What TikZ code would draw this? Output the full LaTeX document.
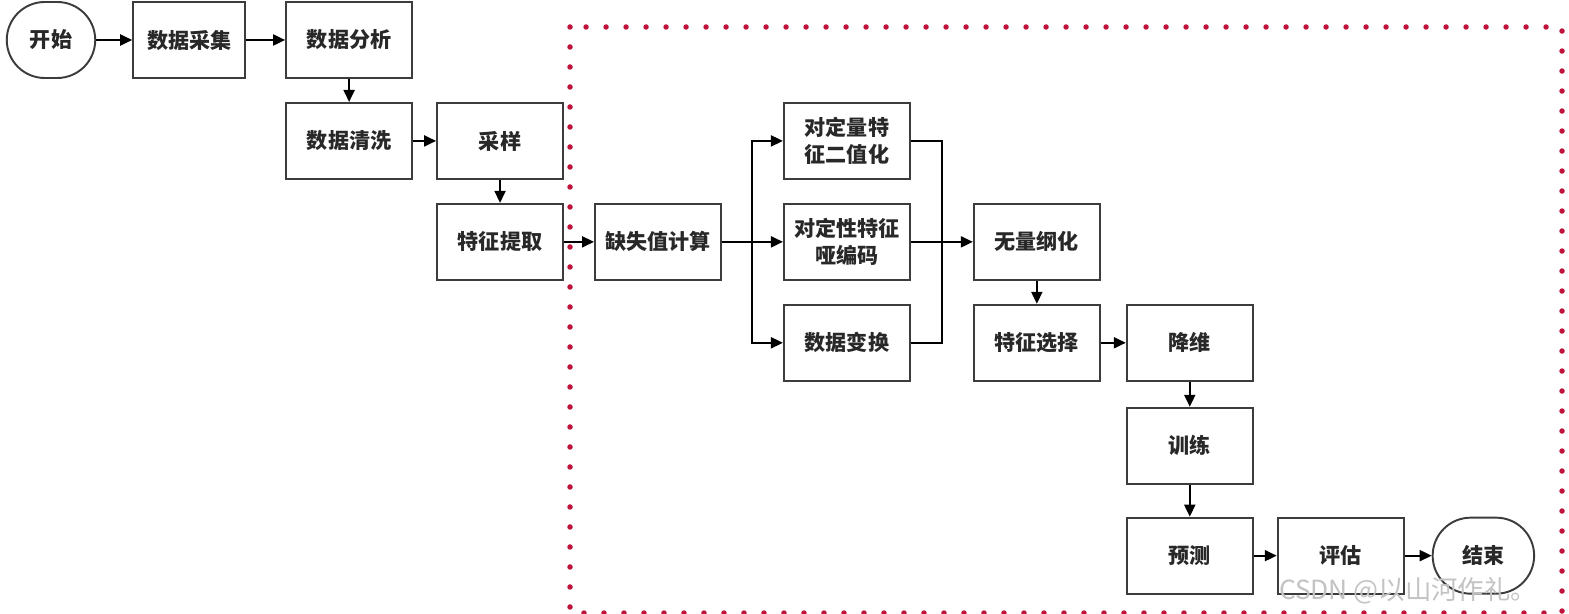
\documentclass[tikz,border=0pt]{standalone}
\usepackage{fontspec}
\usepackage{xcolor}
\usepackage{tikz}
\usetikzlibrary{arrows.meta, positioning, calc, shapes.misc}
\newfontfamily\cjk{Noto Sans CJK SC}
\definecolor{mydark}{RGB}{40,40,40}
\definecolor{myline}{RGB}{60,60,60}
\definecolor{mydot}{RGB}{190,20,60}
\definecolor{mymark}{RGB}{195,195,195}
\tikzset{
  block/.style={rectangle,draw=myline,fill=white,minimum width=2.52cm,minimum height=1.52cm,
    align=center,font=\cjk\bfseries\fontsize{12}{15}\selectfont,text=mydark,line width=1.1pt,inner sep=1pt},
  term/.style={rounded rectangle,draw=myline,fill=white,minimum width=1.84cm,minimum height=1.52cm,
    align=center,font=\cjk\bfseries\fontsize{12}{15}\selectfont,text=mydark,line width=1.1pt,inner sep=1pt},
  arrow/.style={-{Triangle[length=2.4mm,width=2.2mm]},line width=1.1pt,color=black},
  line/.style={line width=1.1pt,color=black},
  dotframe/.style={draw=mydot,line width=0.11cm,line cap=round,dash pattern=on 0pt off 0.4cm}
}

\begin{document}
\begin{tikzpicture}
  \useasboundingbox (0,0) rectangle (31.38,-12.28);
  \draw[dotframe] (11.40,-0.54) rectangle (31.24,-12.26);

  \node[term] (start) at (1.02,-0.80) {开始};
  \node[block, minimum width=2.24cm, right=0.72cm of start] (collect) {数据采集};
  \node[block, right=0.78cm of collect] (analyse) {数据分析};
  \node[block, below=0.46cm of analyse] (clean) {数据清洗};
  \node[block, right=0.46cm of clean] (sample) {采样};
  \node[block, below=0.46cm of sample] (extract) {特征提取};
  \node[block, right=0.6cm of extract] (missing) {缺失值计算};
  \node[block, right=1.22cm of missing] (dummy) {对定性特征\\哑编码};
  \node[block, above=0.46cm of dummy] (binar) {对定量特\\征二值化};
  \node[block, below=0.46cm of dummy] (trans) {数据变换};
  \node[block, right=1.24cm of dummy] (scale) {无量纲化};
  \node[block, below=0.46cm of scale] (select) {特征选择};
  \node[block, right=0.5cm of select] (reduce) {降维};
  \node[block, below=0.5cm of reduce] (train) {训练};
  \node[block, below=0.64cm of train] (predict) {预测};
  \node[block, right=0.46cm of predict] (eval) {评估};
  \node[term, minimum width=2.1cm, right=0.54cm of eval] (stop) {结束};
  \node[font=\cjk\fontsize{15}{17}\selectfont, text=mymark] (wm) at (28.16,-11.82) {CSDN @以山河作礼。};

  \coordinate (split) at ($(missing.east)!0.5!(dummy.west)$);
  \coordinate (merge) at ($(dummy.east)!0.5!(scale.west)$);

  \draw[arrow] (start) -- (collect);
  \draw[arrow] (collect) -- (analyse);
  \draw[arrow] (analyse) -- (clean);
  \draw[arrow] (clean) -- (sample);
  \draw[arrow] (sample) -- (extract);
  \draw[arrow] (extract) -- (missing);
  \draw[line] (missing) -- (split);
  \draw[arrow] (split) |- (binar);
  \draw[arrow] (split) -- (dummy);
  \draw[arrow] (split) |- (trans);
  \draw[line] (binar) -| (merge);
  \draw[line] (trans) -| (merge);
  \draw[arrow] (dummy) -- (scale);
  \draw[arrow] (scale) -- (select);
  \draw[arrow] (select) -- (reduce);
  \draw[arrow] (reduce) -- (train);
  \draw[arrow] (train) -- (predict);
  \draw[arrow] (predict) -- (eval);
  \draw[arrow] (eval) -- (stop);
\end{tikzpicture}
\end{document}
